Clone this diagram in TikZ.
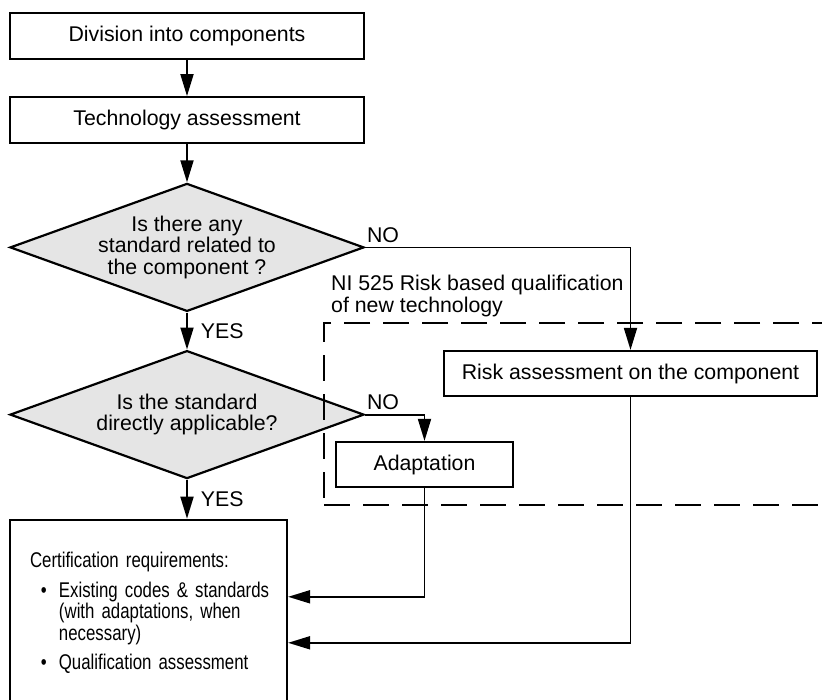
\documentclass[tikz,border=0pt]{standalone}
\usepackage{fontspec}
\setmainfont{Liberation Sans}
\newfontfamily\narrowfont{Liberation Sans}[FakeStretch=0.79]
\usetikzlibrary{arrows.meta, positioning, shapes.geometric}

\begin{document}
\begin{tikzpicture}[
  x=1pt, y=-1pt,
  font=\fontsize{21.3}{21.5}\selectfont,
  box/.style={draw, line width=2.2pt, minimum height=46pt, inner sep=0pt},
  decision/.style={diamond, draw, line width=2.2pt, fill=gray!20, aspect=2.77, minimum width=354pt, minimum height=128pt, inner sep=0pt, align=center},
  certbox/.style={draw, line width=2.2pt, align=left, text width=237pt, inner xsep=20pt, minimum height=186pt, font=\narrowfont\fontsize{21.3}{21.5}\selectfont},
  zone/.style={draw, line width=2pt, dash pattern=on 26pt off 13pt, minimum width=517pt, minimum height=182pt, inner sep=0pt},
  lab/.style={inner xsep=1pt, inner ysep=4pt},
  arrow/.style={-{Triangle[length=22pt, width=13pt]}, line width=1.8pt}
]
\clip (0,0) rectangle (822,699);

% main column
\node[box, minimum width=354pt] (div) at (187,36) {Division into components};
\node[box, minimum width=354pt, below=36pt of div] (tech) {Technology assessment};
\node[decision, below=38pt of tech] (q1) {Is there any\\ standard related to\\ the component ?};
\node[decision, below=37pt of q1] (q2) {Is the standard\\ directly applicable?};
\node[certbox, below=39pt of q2, xshift=-38.5pt] (cert) {\mbox{Certification requirements:}\\[8pt]
  \mbox{\hspace*{11pt}\textbullet\hspace*{12pt}Existing codes \& standards}\\
  \mbox{\hspace*{29pt}(with adaptations, when}\\
  \mbox{\hspace*{29pt}necessary)}\\[8pt]
  \mbox{\hspace*{11pt}\textbullet\hspace*{12pt}Qualification assessment}\par\vspace*{10pt}};

% NI 525 branch
\node[box, minimum width=373pt, minimum height=45pt] (risk) at (630.5,373.5) {Risk assessment on the component};
\node[box, minimum width=177pt, minimum height=45pt] (adapt) at (424.5,464.5) {Adaptation};
\node[zone, anchor=north west] (zone) at (323,322) {};
\node[anchor=north west, align=left, inner sep=0pt] (nilab) at (331,275) {NI 525 Risk based qualification\\ of new technology};

% connectors
\draw[arrow] (div) -- (tech);
\draw[arrow] (tech) -- (q1);
\draw[arrow] (q1) -- node[lab, right=12pt] {YES} (q2);
\draw[arrow] (q2.south) -- node[lab, right=12pt] {YES} (q2.south |- cert.north);
\draw[arrow] (q1.east) node[lab, anchor=south west] {NO} -| (risk.north);
\draw[arrow] (q2.east) node[lab, anchor=south west] {NO} -| (adapt.north);
\draw[arrow] (adapt.south) |- ([yshift=16pt]cert.east);
\draw[arrow] (risk.south) |- ([yshift=-30pt]cert.east);
\end{tikzpicture}
\end{document}
